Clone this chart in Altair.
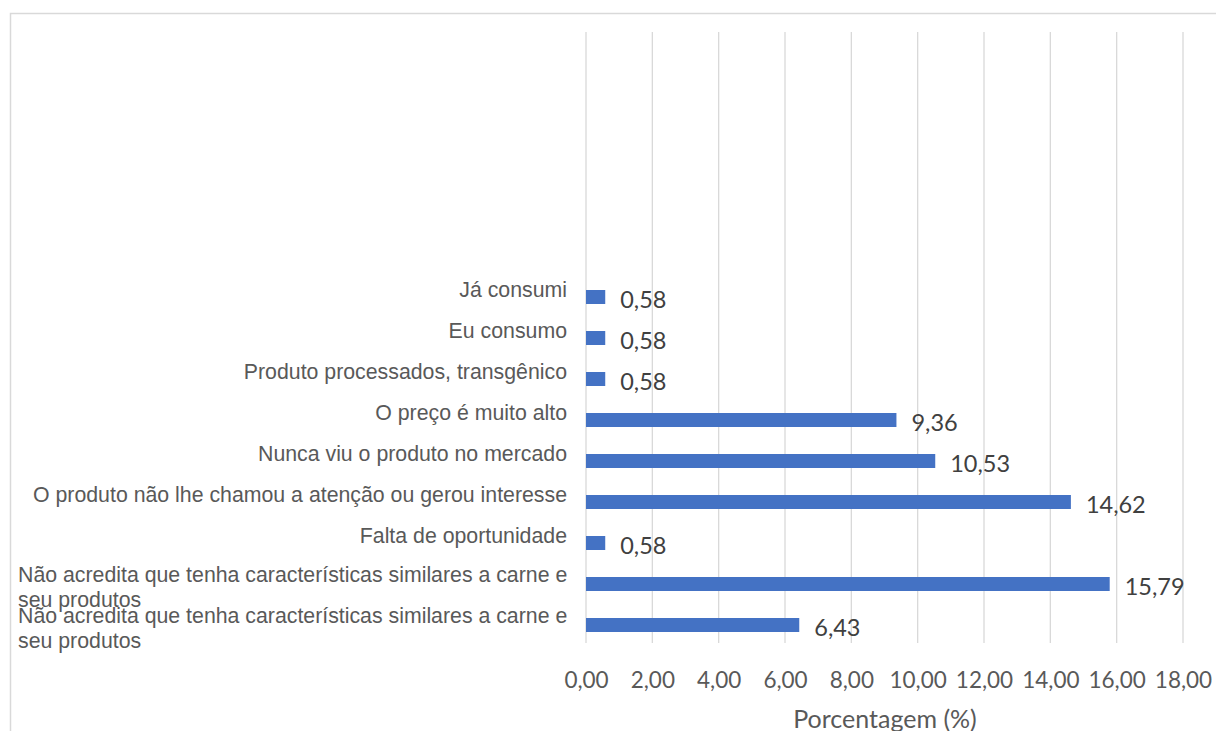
import altair as alt
import pandas as pd

# ---- data (top to bottom, as in the reference) ----
categories = [
    "Já consumi",
    "Eu consumo ",
    "Produto processados, transgênico ",
    "O preço é muito alto",
    "Nunca viu o produto no mercado",
    "O produto não lhe chamou a atenção ou gerou interesse",
    "Falta de oportunidade",
    "Não acredita que tenha características similares a carne e\nseu produtos",
    "Não acredita que tenha características similares a carne e\nseu produtos",
]
values = [0.58, 0.58, 0.58, 9.36, 10.53, 14.62, 0.58, 15.79, 6.43]
x_ticks = [0, 2, 4, 6, 8, 10, 12, 14, 16, 18]
x_title = "Porcentagem (%)"

keys = [f"c{i}" for i in range(len(categories))]
df = pd.DataFrame({"key": keys, "label": categories, "value": values})
ticks_df = pd.DataFrame({"tick": x_ticks})

fmt = "replace(format(datum.value, '.2f'), '.', ',')"

PLOT_H = 611

y_enc = alt.Y(
    "key:N",
    sort=keys,
    scale=alt.Scale(range=[244.5, 613.5], paddingInner=0, paddingOuter=0),
    axis=None,
)

x_enc = alt.X(
    "value:Q",
    scale=alt.Scale(domain=[0, 18], nice=False),
    axis=alt.Axis(
        values=x_ticks,
        labelExpr=fmt,
        title=x_title,
        grid=False,
        domain=False,
        ticks=False,
        labelFont="Lato",
        labelFontSize=22.5,
        labelColor="#595959",
        labelPadding=26,
        labelOverlap=False,
        labelFlush=False,
        titleFont="Lato",
        titleFontSize=25,
        titleColor="#595959",
        titleFontWeight="normal",
        titleBaseline="alphabetic",
        titleY=84,
    ),
)

grid = (
    alt.Chart(ticks_df)
    .mark_rule(color="#D9D9D9", strokeWidth=1.3)
    .encode(x=alt.X("tick:Q"), y=alt.value(0), y2=alt.value(PLOT_H))
)

base = alt.Chart(df)

bars = base.mark_bar(color="#4472C4", height=14).encode(x=x_enc, y=y_enc)

value_labels = (
    base.transform_calculate(txt=fmt)
    .mark_text(
        align="left", baseline="middle", dx=15, dy=4,
        font="Lato", fontSize=23.5, color="#404040",
    )
    .encode(x="value:Q", y=y_enc, text="txt:N")
)

single_labels = (
    base.transform_filter("indexof(datum.label, '\\n') < 0")
    .mark_text(
        align="right", baseline="alphabetic",
        font="Liberation Sans", fontSize=21.3, color="#595959",
    )
    .encode(x=alt.value(-19), y=y_enc, text="label:N")
)

multi_labels = (
    base.transform_filter("indexof(datum.label, '\\n') >= 0")
    .mark_text(
        align="left", baseline="alphabetic", dy=-2,
        lineBreak="\n", lineHeight=24.5,
        font="Liberation Sans", fontSize=21.3, color="#595959",
    )
    .encode(x=alt.value(-568), y=y_enc, text="label:N")
)

frame = (
    alt.Chart(pd.DataFrame({"f": [0]}))
    .mark_rect(fillOpacity=0, stroke="#D9D9D9", strokeWidth=1.5)
    .encode(
        x=alt.value(-575.5), x2=alt.value(700),
        y=alt.value(-18.5), y2=alt.value(800),
    )
)

chart = (
    alt.layer(frame, grid, bars, value_labels, single_labels, multi_labels)
    .properties(
        width=597,
        height=PLOT_H,
        autosize=alt.AutoSizeParams(type="none"),
        padding={"left": 586, "top": 32, "right": 33, "bottom": 731 - 32 - PLOT_H},
        background="white",
    )
    .configure_view(stroke=None)
)

chart.save("out.html", embed_options={"renderer": "svg", "actions": False})
